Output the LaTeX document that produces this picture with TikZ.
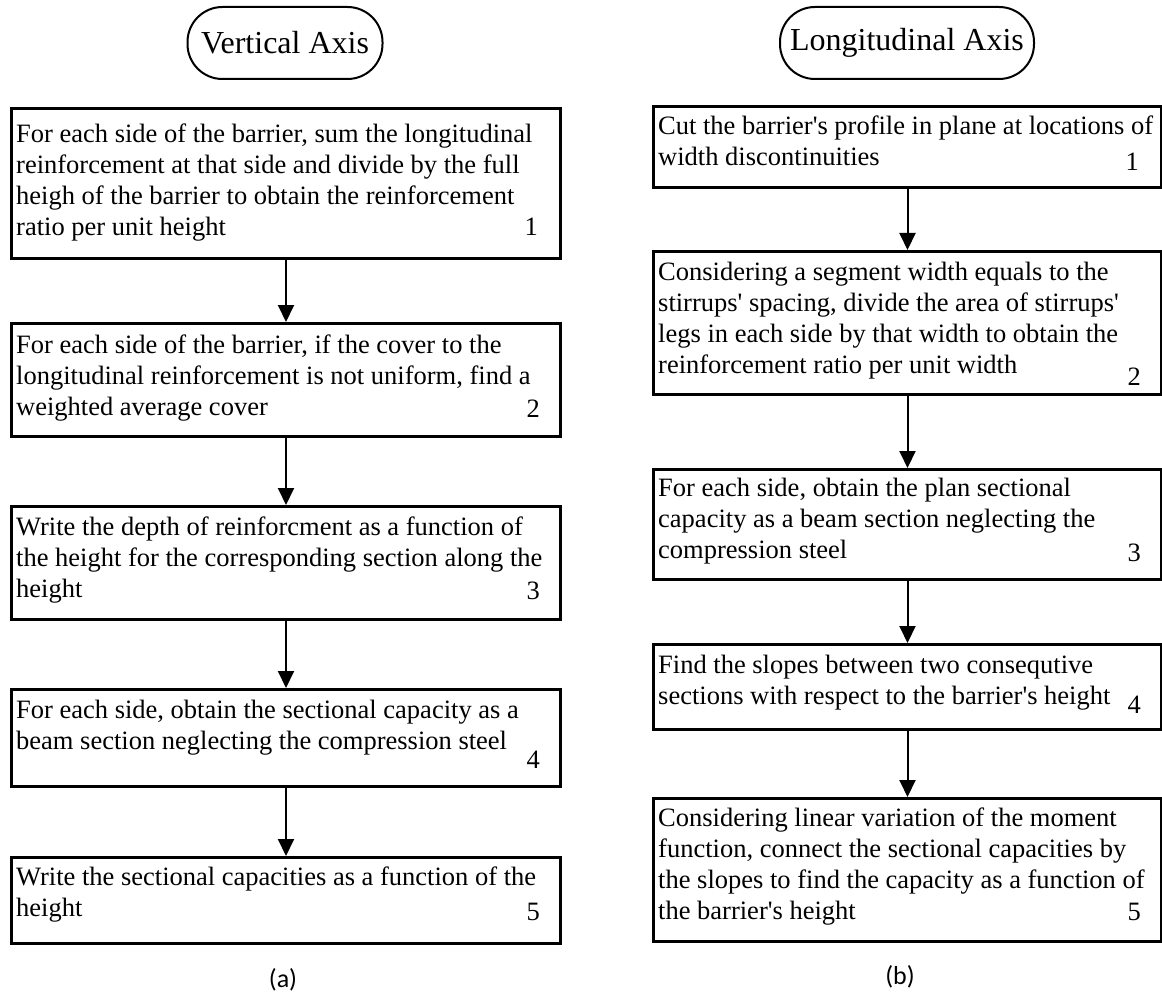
\documentclass[tikz,border=0pt]{standalone}
\usepackage{fontspec}
\setmainfont{Liberation Serif}
\newfontfamily\capfont{Carlito}
\usetikzlibrary{arrows.meta}
\tikzset{
  stepbox/.style={draw=black, line width=3pt, rectangle, inner sep=0pt, anchor=north west},
  axisbox/.style={draw=black, line width=2pt, rectangle, rounded corners=35pt, inner sep=0pt,
    minimum height=72pt, font=\fontsize{32}{36}\selectfont},
  steptext/.style={anchor=base west, inner sep=0pt, font=\fontsize{26.5}{31}\selectfont},
  stepnum/.style={anchor=base east, inner sep=0pt, font=\fontsize{26.5}{31}\selectfont},
  arr/.style={draw=black, line width=2pt, -{Triangle[width=16pt,length=17pt]}},
  sublabel/.style={inner sep=0pt, font=\capfont\fontsize{26}{30}\selectfont}
}
\newcommand{\steplines}[1]{\parbox[t]{620pt}{\raggedright #1}}
\newcommand{\aq}{\textquotesingle}
\begin{document}
\begin{tikzpicture}[x=1pt,y=-1pt]
\useasboundingbox (0,0) rectangle (1162,995);
% titles
\node[axisbox, minimum width=195pt] (vt) at (285,43) {Vertical Axis};
\node[axisbox, minimum width=254pt] (lt) at (907,43) {Longitudinal Axis};
% left boxes
\node[stepbox, minimum width=549pt, minimum height=150pt] (l1) at (10,107) {};
\node[stepbox, minimum width=549pt, minimum height=113pt] (l2) at (10,322) {};
\node[stepbox, minimum width=549pt, minimum height=113pt] (l3) at (10,505) {};
\node[stepbox, minimum width=549pt, minimum height=97pt] (l4) at (10,688) {};
\node[stepbox, minimum width=549pt, minimum height=86pt] (l5) at (10,856) {};
% right boxes
\node[stepbox, minimum width=508pt, minimum height=81pt] (r1) at (652,105) {};
\node[stepbox, minimum width=508pt, minimum height=143pt] (r2) at (652,250) {};
\node[stepbox, minimum width=508pt, minimum height=110pt] (r3) at (652,468) {};
\node[stepbox, minimum width=508pt, minimum height=85pt] (r4) at (652,643) {};
\node[stepbox, minimum width=508pt, minimum height=143pt] (r5) at (652,797) {};
% left texts
\node[steptext] (l1t) at (16,143) {\steplines{For each side of the barrier, sum the longitudinal\\reinforcement at that side and divide by the full\\heigh of the barrier to obtain the reinforcement\\ratio per unit height}};
\node[stepnum] (l1n) at (538,236) {1};
\node[steptext] (l2t) at (16,353) {\steplines{For each side of the barrier, if the cover to the\\longitudinal reinforcement is not uniform, find a\\weighted average cover}};
\node[stepnum] (l2n) at (540,417) {2};
\node[steptext] (l3t) at (16,535) {\steplines{Write the depth of reinforcment as a function of\\the height for the corresponding section along the\\height}};
\node[stepnum] (l3n) at (540,599) {3};
\node[steptext] (l4t) at (16,718) {\steplines{For each side, obtain the sectional capacity as a\\beam section neglecting the compression steel}};
\node[stepnum] (l4n) at (540,768) {4};
\node[steptext] (l5t) at (16,885) {\steplines{Write the sectional capacities as a function of the\\height}};
\node[stepnum] (l5n) at (540,920) {5};
% right texts
\node[steptext] (r1t) at (658,135) {\steplines{Cut the barrier\aq s profile in plane at locations of\\width discontinuities}};
\node[stepnum] (r1n) at (1139,171) {1};
\node[steptext] (r2t) at (658,280) {\steplines{Considering a segment width equals to the\\stirrups\aq{} spacing, divide the area of stirrups\aq\\legs in each side by that width to obtain the\\reinforcement ratio per unit width}};
\node[stepnum] (r2n) at (1141,385) {2};
\node[steptext] (r3t) at (658,496) {\steplines{For each side, obtain the plan sectional\\capacity as a beam section neglecting the\\compression steel}};
\node[stepnum] (r3n) at (1141,561) {3};
\node[steptext] (r4t) at (658,673) {\steplines{Find the slopes between two consequtive\\sections with respect to the barrier\aq s height}};
\node[stepnum] (r4n) at (1141,713) {4};
\node[steptext] (r5t) at (658,826) {\steplines{Considering linear variation of the moment\\function, connect the sectional capacities by\\the slopes to find the capacity as a function of\\the barrier\aq s height}};
\node[stepnum] (r5n) at (1141,920) {5};
% connectors
\draw[arr] (l1.south) -- (l2.north);
\draw[arr] (l2.south) -- (l3.north);
\draw[arr] (l3.south) -- (l4.north);
\draw[arr] (l4.south) -- (l5.north);
\draw[arr] (r1.south) -- (r2.north);
\draw[arr] (r2.south) -- (r3.north);
\draw[arr] (r3.south) -- (r4.north);
\draw[arr] (r4.south) -- (r5.north);
% sub labels
\node[sublabel] (la) at (283,980) {(a)};
\node[sublabel] (lb) at (900,977) {(b)};
\end{tikzpicture}
\end{document}
